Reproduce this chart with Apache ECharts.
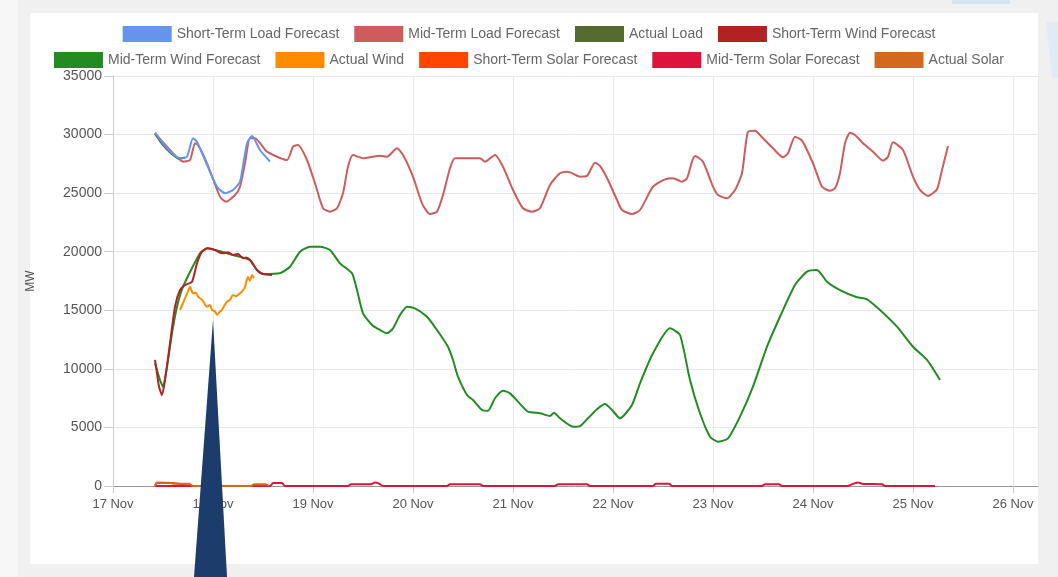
<!DOCTYPE html>
<html>
<head>
<meta charset="utf-8">
<script src="https://cdn.jsdelivr.net/npm/echarts@6/dist/echarts.min.js"></script>
<style>
  html, body { margin: 0; padding: 0; background: #f1f1f1; }
  #wrap { position: relative; width: 1058px; height: 577px; overflow: hidden; background: #f0f0f0; }
  #strip { position: absolute; left: 0; top: 0; width: 18px; height: 577px; background: #f7f7f7; }
  #panel { position: absolute; left: 30px; top: 13px; width: 1008px; height: 551px; background: #ffffff; }
  #chart { position: absolute; left: 0; top: 0; width: 1058px; height: 577px; }
</style>
</head>
<body>
<div id="wrap">
  <div id="strip"></div>
  <div id="panel"></div>
  <div id="chart"></div>
</div>
<script>
// x values are day-of-November (fractional), y values are MW
const legendRow1 = ['Short-Term Load Forecast', 'Mid-Term Load Forecast', 'Actual Load', 'Short-Term Wind Forecast'];
const legendRow2 = ['Mid-Term Wind Forecast', 'Actual Wind', 'Short-Term Solar Forecast', 'Mid-Term Solar Forecast', 'Actual Solar'];

const shortTermLoad = [[17.42,30160],[17.54,28830],[17.67,27980],[17.74,28110],[17.80,29680],[17.84,29390],[17.92,27830],[18.04,25550],[18.12,24990],[18.20,25270],[18.27,25980],[18.34,29260],[18.39,29880],[18.47,28680],[18.57,27690]];

const midTermLoad = [[17.42,30110],[17.57,28680],[17.70,27690],[17.77,27830],[17.82,29260],[17.85,29110],[17.94,27550],[18.07,24700],[18.13,24270],[18.22,24840],[18.27,25550],[18.32,27550],[18.37,29680],[18.42,29680],[18.54,28540],[18.74,27830],[18.80,28970],[18.85,29110],[18.94,27830],[19.02,25840],[19.10,23710],[19.17,23420],[19.24,23710],[19.30,24990],[19.35,27260],[19.40,28260],[19.50,27980],[19.67,28200],[19.74,28110],[19.84,28830],[19.90,28260],[20.00,26410],[20.09,24130],[20.17,23220],[20.24,23420],[20.30,24840],[20.37,27120],[20.42,27980],[20.67,27980],[20.72,27690],[20.75,27830],[20.82,28260],[20.90,27260],[21.00,25270],[21.10,23710],[21.19,23420],[21.27,23710],[21.37,25700],[21.47,26700],[21.55,26830],[21.67,26410],[21.74,26470],[21.82,27600],[21.87,27320],[21.95,26120],[22.04,24420],[22.09,23560],[22.19,23220],[22.27,23560],[22.40,25550],[22.52,26180],[22.60,26270],[22.69,25980],[22.74,26270],[22.79,27690],[22.82,28170],[22.90,27690],[23.00,25550],[23.05,24840],[23.14,24560],[23.22,25270],[23.29,26700],[23.35,30250],[23.42,30330],[23.50,29680],[23.60,28830],[23.70,28060],[23.75,28400],[23.82,29820],[23.89,29480],[24.00,27550],[24.09,25550],[24.17,25210],[24.22,25420],[24.27,26700],[24.32,29260],[24.37,30160],[24.42,29970],[24.50,29260],[24.60,28540],[24.70,27770],[24.75,28110],[24.80,29340],[24.90,28680],[25.00,26410],[25.07,25270],[25.15,24760],[25.24,25330],[25.29,26980],[25.35,29030]];

const actualLoad = [[17.42,30050],[17.50,29100],[17.58,28400],[17.66,27950],[17.72,28050]];

const shortTermWind = [[17.42,10760],[17.44,9620],[17.46,8480],[17.49,7770],[17.52,9050],[17.57,12180],[17.62,15310],[17.67,16730],[17.72,17160],[17.79,17440],[17.84,19010],[17.89,20000],[17.95,20290],[18.02,20150],[18.06,19950],[18.10,19870],[18.15,19950],[18.20,19720],[18.25,19800],[18.30,19440],[18.33,19500],[18.37,19290],[18.44,18440],[18.50,18100],[18.59,18010]];

const midTermWind = [[17.42,10480],[17.47,9050],[17.50,8480],[17.54,10190],[17.59,13040],[17.64,15310],[17.70,17010],[17.87,19870],[17.94,20290],[18.02,20150],[18.20,19720],[18.37,19290],[18.44,18440],[18.50,18100],[18.67,18160],[18.77,18720],[18.87,20000],[18.97,20430],[19.07,20430],[19.17,20150],[19.27,19010],[19.39,18160],[19.44,16730],[19.50,14740],[19.59,13750],[19.67,13320],[19.74,13040],[19.80,13460],[19.87,14600],[19.94,15310],[20.02,15170],[20.14,14450],[20.24,13320],[20.35,11890],[20.40,10760],[20.45,9330],[20.54,7770],[20.60,7340],[20.69,6490],[20.75,6430],[20.82,7490],[20.90,8140],[20.97,7910],[21.05,7200],[21.15,6340],[21.27,6210],[21.37,5980],[21.41,6260],[21.47,5780],[21.60,5060],[21.67,5120],[21.75,5780],[21.84,6550],[21.92,7000],[21.99,6490],[22.07,5780],[22.19,6920],[22.27,8770],[22.40,11330],[22.57,13460],[22.67,12890],[22.77,9050],[22.87,6210],[22.97,4210],[23.05,3780],[23.15,4070],[23.27,5920],[23.40,8480],[23.54,11890],[23.67,14450],[23.82,17160],[23.94,18300],[24.04,18440],[24.14,17440],[24.27,16730],[24.44,16110],[24.54,15940],[24.67,15030],[24.84,13600],[25.00,11890],[25.14,10760],[25.27,9050]];

const actualWind = [[17.67,15030],[17.70,15600],[17.72,16020],[17.75,16600],[17.77,17010],[17.80,16450],[17.83,16500],[17.85,16160],[17.89,15900],[17.94,15310],[17.97,15450],[17.99,15030],[18.02,14900],[18.04,14600],[18.07,14900],[18.09,15030],[18.12,15500],[18.14,15730],[18.17,15900],[18.20,16310],[18.23,16200],[18.27,16450],[18.30,16700],[18.32,17010],[18.35,17870],[18.37,17500],[18.39,18010],[18.41,17730]];

const shortTermSolar = [[17.42,0],[17.44,260],[17.60,260],[17.78,0],[18.38,0],[18.41,130],[18.52,130],[18.56,0]];

const midTermSolar = [[17.42,0],[18.57,0],[18.60,250],[18.69,250],[18.72,0],[19.35,0],[19.38,150],[19.58,150],[19.62,300],[19.66,200],[19.70,0],[20.34,0],[20.37,150],[20.67,150],[20.70,0],[21.42,0],[21.45,150],[21.74,150],[21.77,0],[22.40,0],[22.43,200],[22.56,200],[22.59,0],[23.49,0],[23.52,150],[23.66,150],[23.69,0],[24.34,0],[24.40,180],[24.45,300],[24.50,180],[24.69,150],[24.72,0],[25.22,0]];

const actualSolar = [[17.42,0],[17.44,300],[17.56,280],[17.62,200],[17.76,200],[17.80,0],[18.38,0],[18.41,130],[18.53,130],[18.56,0]];

const yTicks = { min: 0, max: 35000, interval: 5000 };
const xRange = { min: 17, max: 26.25, interval: 1 };

const chart = echarts.init(document.getElementById('chart'), null, { renderer: 'canvas' });

function line(name, data, color, z) {
  return {
    name: name, type: 'line', data: data, showSymbol: false, symbol: 'none',
    smooth: 0.2, z: z,
    lineStyle: { color: color, width: 2 },
    itemStyle: { color: color }
  };
}

const legendCommon = {
  left: 'center', icon: 'rect', itemWidth: 49, itemHeight: 16, itemGap: 15, padding: 0,
  textStyle: { color: '#666', fontSize: 14, fontFamily: 'Liberation Sans, Arial, sans-serif' }
};

chart.setOption({
  animation: false,
  backgroundColor: 'transparent',
  textStyle: { fontFamily: 'Liberation Sans, Arial, sans-serif' },
  legend: [
    Object.assign({ top: 26, data: legendRow1 }, legendCommon),
    Object.assign({ top: 52, data: legendRow2 }, legendCommon)
  ],
  grid: { left: 113, right: 20, top: 76, bottom: 91, containLabel: false },
  xAxis: {
    type: 'value', min: xRange.min, max: xRange.max, interval: xRange.interval,
    axisLine: { show: true, lineStyle: { color: '#999', width: 1 } },
    axisTick: { show: true, length: 7, lineStyle: { color: '#ccc' } },
    splitLine: { show: true, lineStyle: { color: '#e8e8e8' } },
    axisLabel: {
      color: '#555', fontSize: 13, margin: 12, showMaxLabel: false,
      formatter: function (v) { return Number.isInteger(v) ? v + ' Nov' : ''; }
    }
  },
  yAxis: {
    type: 'value', min: yTicks.min, max: yTicks.max, interval: yTicks.interval,
    name: 'MW', nameLocation: 'middle', nameGap: 76, nameRotate: 90,
    nameTextStyle: { color: '#555', fontSize: 12 },
    axisLine: { show: true, lineStyle: { color: '#ccc' } },
    axisTick: { show: true, length: 9, lineStyle: { color: '#ccc' } },
    splitLine: { show: true, lineStyle: { color: '#e8e8e8' } },
    axisLabel: { color: '#555', fontSize: 14, margin: 11, formatter: function (v) { return String(v); } }
  },
  series: [
    line('Short-Term Load Forecast', shortTermLoad, '#6495ed', 5),
    line('Mid-Term Load Forecast', midTermLoad, '#cd5c5c', 3),
    line('Actual Load', actualLoad, '#556b2f', 4),
    line('Short-Term Wind Forecast', shortTermWind, '#b22222', 5),
    line('Mid-Term Wind Forecast', midTermWind, '#228b22', 3),
    line('Actual Wind', actualWind, '#ff8c00', 6),
    line('Short-Term Solar Forecast', shortTermSolar, '#ff4500', 3),
    line('Mid-Term Solar Forecast', midTermSolar, '#dc143c', 4),
    line('Actual Solar', actualSolar, '#d2691e', 5)
  ],
  graphic: {
    elements: [
      { type: 'rect', silent: true, z: 100, shape: { x: 952, y: 0, width: 58, height: 4 }, style: { fill: '#d6e4f2' } },
      { type: 'polygon', silent: true, z: 100, shape: { points: [[1046, 22], [1058, 22], [1058, 78], [1052, 78]] }, style: { fill: '#e1ebf5' } },
      { type: 'polygon', silent: true, z: 100, shape: { points: [[213, 320], [194, 577], [227, 577]] }, style: { fill: '#1c3c6c' } }
    ]
  }
});
</script>
</body>
</html>
